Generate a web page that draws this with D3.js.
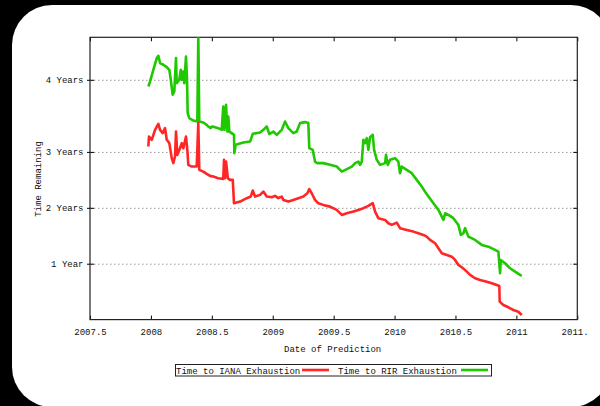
<!DOCTYPE html>
<html>
<head>
<meta charset="utf-8">
<script src="https://cdn.jsdelivr.net/npm/d3@7"></script>
<style>
  html, body { margin: 0; padding: 0; background: #000; }
  svg { display: block; }
  text { font-family: "Liberation Mono", "DejaVu Sans Mono", monospace; font-size: 9px; fill: #111; }
</style>
</head>
<body>
<div class="container"></div>
<script>
// x ticks (decimal year) and y ticks (years remaining)
var xTicks = [2007.5, 2008, 2008.5, 2009, 2009.5, 2010, 2010.5, 2011, 2011.5];
var yTickValues = [1, 2, 3, 4.29];
var yTickLabels = ['1 Year', '2 Years', '3 Years', '4 Years'];

var seriesNames = ['Time to IANA Exhaustion', 'Time to RIR Exhaustion'];

// Time to IANA Exhaustion (red)
var ianaDate = [2007.979, 2007.984, 2008.007, 2008.034, 2008.061, 2008.075, 2008.097, 2008.116, 2008.130, 2008.151,
    2008.171, 2008.184, 2008.198, 2008.206, 2008.217, 2008.239, 2008.253, 2008.266, 2008.288, 2008.299,
    2008.307, 2008.335, 2008.376, 2008.389, 2008.397, 2008.430, 2008.458, 2008.485, 2008.512, 2008.553,
    2008.594, 2008.600, 2008.608, 2008.617, 2008.631, 2008.649, 2008.672, 2008.682, 2008.732, 2008.787,
    2008.819, 2008.836, 2008.855, 2008.896, 2008.923, 2008.951, 2008.992, 2009.019, 2009.046, 2009.074,
    2009.087, 2009.128, 2009.169, 2009.210, 2009.251, 2009.284, 2009.300, 2009.320, 2009.347, 2009.374,
    2009.415, 2009.470, 2009.525, 2009.567, 2009.608, 2009.662, 2009.703, 2009.744, 2009.785, 2009.821,
    2009.840, 2009.867, 2009.922, 2009.949, 2009.977, 2010.018, 2010.045, 2010.100, 2010.154, 2010.195,
    2010.236, 2010.264, 2010.291, 2010.333, 2010.360, 2010.388, 2010.429, 2010.470, 2010.497, 2010.524,
    2010.552, 2010.593, 2010.620, 2010.661, 2010.702, 2010.757, 2010.798, 2010.839, 2010.860, 2010.863,
    2010.893, 2010.934, 2010.975, 2011.016, 2011.044];
var ianaRemaining = [3.096, 3.275, 3.216, 3.395, 3.502, 3.395, 3.336, 3.425, 3.216, 3.157,
    2.888, 2.799, 2.917, 3.364, 2.947, 3.067, 3.157, 3.067, 3.275, 3.037,
    2.768, 2.738, 2.738, 3.515, 2.679, 2.648, 2.607, 2.571, 2.559, 2.530,
    2.517, 2.858, 2.530, 2.827, 2.530, 2.500, 2.500, 2.082, 2.111, 2.172,
    2.201, 2.308, 2.201, 2.231, 2.290, 2.201, 2.190, 2.213, 2.172, 2.201,
    2.141, 2.111, 2.141, 2.172, 2.201, 2.261, 2.333, 2.261, 2.141, 2.082,
    2.052, 2.021, 1.962, 1.873, 1.903, 1.932, 1.962, 1.993, 2.034, 2.082,
    1.932, 1.814, 1.783, 1.724, 1.694, 1.735, 1.635, 1.604, 1.574, 1.545,
    1.515, 1.484, 1.425, 1.366, 1.277, 1.187, 1.157, 1.126, 1.067, 0.978,
    0.936, 0.858, 0.799, 0.739, 0.709, 0.679, 0.650, 0.620, 0.602, 0.321,
    0.261, 0.220, 0.172, 0.141, 0.082];

// Time to RIR Exhaustion (green)
var rirDate = [2007.979, 2007.993, 2008.020, 2008.048, 2008.061, 2008.075, 2008.102, 2008.130, 2008.151, 2008.163,
    2008.179, 2008.192, 2008.206, 2008.212, 2008.233, 2008.245, 2008.253, 2008.266, 2008.274, 2008.288,
    2008.296, 2008.302, 2008.315, 2008.348, 2008.381, 2008.389, 2008.397, 2008.430, 2008.458, 2008.471,
    2008.491, 2008.499, 2008.526, 2008.553, 2008.581, 2008.594, 2008.603, 2008.617, 2008.627, 2008.635,
    2008.644, 2008.663, 2008.682, 2008.685, 2008.696, 2008.759, 2008.814, 2008.836, 2008.896, 2008.923,
    2008.951, 2008.972, 2009.005, 2009.033, 2009.074, 2009.101, 2009.128, 2009.169, 2009.197, 2009.224,
    2009.265, 2009.292, 2009.300, 2009.328, 2009.347, 2009.366, 2009.415, 2009.470, 2009.525, 2009.567,
    2009.608, 2009.649, 2009.676, 2009.703, 2009.717, 2009.731, 2009.744, 2009.758, 2009.772, 2009.785,
    2009.799, 2009.821, 2009.832, 2009.854, 2009.881, 2009.922, 2009.930, 2009.944, 2009.963, 2010.004,
    2010.031, 2010.045, 2010.059, 2010.100, 2010.141, 2010.182, 2010.223, 2010.250, 2010.278, 2010.319,
    2010.360, 2010.401, 2010.415, 2010.442, 2010.483, 2010.524, 2010.544, 2010.565, 2010.579, 2010.606,
    2010.661, 2010.716, 2010.770, 2010.825, 2010.852, 2010.866, 2010.872, 2010.907, 2010.948, 2010.989,
    2011.030, 2011.044];
var rirRemaining = [4.170, 4.260, 4.469, 4.679, 4.720, 4.589, 4.559, 4.517, 4.469, 4.290,
    4.022, 4.081, 4.679, 4.231, 4.290, 4.469, 4.290, 4.439, 4.231, 4.707,
    4.321, 3.694, 3.604, 3.561, 3.543, 5.10, 3.543, 3.526, 3.484, 3.454,
    3.425, 3.454, 3.443, 3.425, 3.395, 3.812, 3.395, 3.842, 3.364, 3.633,
    3.364, 3.336, 3.305, 2.978, 3.126, 3.167, 3.185, 3.323, 3.346, 3.395,
    3.454, 3.318, 3.364, 3.305, 3.395, 3.543, 3.425, 3.336, 3.364, 3.515,
    3.533, 3.515, 3.067, 3.037, 2.827, 2.799, 2.799, 2.768, 2.738, 2.648,
    2.691, 2.738, 2.799, 2.827, 2.768, 2.827, 3.216, 3.157, 3.246, 3.037,
    3.264, 3.305, 3.037, 2.858, 2.768, 2.799, 2.947, 2.768, 2.858, 2.888,
    2.827, 2.619, 2.738, 2.679, 2.619, 2.500, 2.380, 2.290, 2.201, 2.082,
    1.962, 1.783, 1.903, 1.873, 1.814, 1.694, 1.515, 1.545, 1.635, 1.484,
    1.425, 1.336, 1.305, 1.246, 1.216, 0.829, 1.067, 1.008, 0.919, 0.858,
    0.799, 0.781];

var loadChart = function(){
    const WIDTH = 600;
    const HEIGHT = 406;
    const LEFT = 90, RIGHT = 577.3, TOP = 37.3, BOTTOM = 319.6;
    const RED = '#ff2626';
    const GREEN = '#1fc800';

    var xScale = d3.scaleLinear().domain([2007.5, 2011.5]).range([LEFT, RIGHT]);
    var yScale = d3.scaleLinear().domain([0, 5.05]).range([BOTTOM, TOP]);

    var svg = d3.select('.container').append('svg')
        .attr('width', WIDTH)
        .attr('height', HEIGHT);

    svg.append('rect')
        .attr('width', WIDTH).attr('height', HEIGHT)
        .attr('fill', '#000');

    svg.append('rect')
        .attr('x', 12).attr('y', 5)
        .attr('width', 599).attr('height', 402)
        .attr('rx', 40).attr('ry', 40)
        .attr('fill', '#fff');

    // the original canvas cuts off the last tick label
    svg.append('clipPath').attr('id', 'label-clip')
        .append('rect')
        .attr('x', 0).attr('y', 0)
        .attr('width', 588.5).attr('height', HEIGHT);

    // dotted horizontal grid
    svg.append('g')
        .attr('transform', 'translate(' + LEFT + ',0)')
        .call(d3.axisLeft(yScale).tickValues(yTickValues).tickSizeInner(-(RIGHT - LEFT)).tickSizeOuter(0).tickFormat(''))
        .call(function(g){ g.select('.domain').remove(); })
        .selectAll('line')
        .attr('stroke', '#999')
        .attr('stroke-dasharray', '1.5,2.5');

    // bottom axis with labels
    svg.append('g')
        .attr('clip-path', 'url(#label-clip)')
        .append('g')
        .attr('transform', 'translate(0,' + BOTTOM + ')')
        .call(d3.axisBottom(xScale).tickValues(xTicks).tickSizeInner(-4).tickSizeOuter(0)
            .tickPadding(9).tickFormat(d3.format('')))
        .call(function(g){
            g.select('.domain').remove();
            g.selectAll('text').attr('font-family', null).attr('font-size', null).attr('fill', '#111');
            g.selectAll('line').attr('stroke', '#000');
        });

    // top axis (ticks only)
    svg.append('g')
        .attr('transform', 'translate(0,' + TOP + ')')
        .call(d3.axisTop(xScale).tickValues(xTicks).tickSizeInner(-4).tickSizeOuter(0).tickFormat(''))
        .call(function(g){ g.select('.domain').remove(); g.selectAll('line').attr('stroke', '#000'); });

    // left axis with labels
    svg.append('g')
        .attr('transform', 'translate(' + LEFT + ',0)')
        .call(d3.axisLeft(yScale).tickValues(yTickValues).tickSizeInner(3).tickSizeOuter(0)
            .tickPadding(3.5).tickFormat(function(d, i){ return yTickLabels[i]; }))
        .call(function(g){
            g.select('.domain').remove();
            g.selectAll('text').attr('font-family', null).attr('font-size', null).attr('fill', '#111');
            g.selectAll('line').attr('stroke', '#000');
        });

    svg.append('g')
        .attr('transform', 'translate(' + LEFT + ',0)')
        .call(d3.axisLeft(yScale).tickValues(yTickValues).tickSizeInner(-4).tickSizeOuter(0).tickFormat(''))
        .call(function(g){ g.select('.domain').remove(); g.selectAll('line').attr('stroke', '#000'); });

    // right axis (ticks only)
    svg.append('g')
        .attr('transform', 'translate(' + RIGHT + ',0)')
        .call(d3.axisRight(yScale).tickValues(yTickValues).tickSizeInner(-4).tickSizeOuter(0).tickFormat(''))
        .call(function(g){ g.select('.domain').remove(); g.selectAll('line').attr('stroke', '#000'); });

    // border
    svg.append('rect')
        .attr('x', LEFT).attr('y', TOP)
        .attr('width', RIGHT - LEFT).attr('height', BOTTOM - TOP)
        .attr('fill', 'none')
        .attr('stroke', '#222')
        .attr('stroke-width', 1.2);

    svg.append('clipPath').attr('id', 'plot-clip')
        .append('rect')
        .attr('x', LEFT).attr('y', TOP)
        .attr('width', RIGHT - LEFT).attr('height', BOTTOM - TOP);

    var line = d3.line()
        .x(function(d){ return xScale(d[0]); })
        .y(function(d){ return yScale(d[1]); });

    var chart = svg.append('g').attr('clip-path', 'url(#plot-clip)');

    chart.append('path')
        .attr('d', line(d3.zip(rirDate, rirRemaining)))
        .attr('fill', 'none')
        .attr('stroke', GREEN)
        .attr('stroke-width', 2.6)
        .attr('stroke-linejoin', 'round');

    chart.append('path')
        .attr('d', line(d3.zip(ianaDate, ianaRemaining)))
        .attr('fill', 'none')
        .attr('stroke', RED)
        .attr('stroke-width', 2.6)
        .attr('stroke-linejoin', 'round');

    // axis titles
    svg.append('text')
        .attr('x', (LEFT + RIGHT) / 2 - 1)
        .attr('y', 352)
        .attr('text-anchor', 'middle')
        .text('Date of Prediction');

    svg.append('text')
        .attr('transform', 'translate(41,179) rotate(-90)')
        .attr('text-anchor', 'middle')
        .text('Time Remaining');

    // legend
    var legend = svg.append('g');
    legend.append('rect')
        .attr('x', 175.5).attr('y', 364.5)
        .attr('width', 316).attr('height', 11.5)
        .attr('fill', 'none')
        .attr('stroke', '#222');

    var items = [
        {name: seriesNames[0], color: RED, tx: 176, x1: 302, x2: 329},
        {name: seriesNames[1], color: GREEN, tx: 338, x1: 461, x2: 488}
    ];
    items.forEach(function(it){
        legend.append('text')
            .attr('x', it.tx).attr('y', 373.5)
            .text(it.name);
        legend.append('line')
            .attr('x1', it.x1).attr('x2', it.x2)
            .attr('y1', 370).attr('y2', 370)
            .attr('stroke', it.color)
            .attr('stroke-width', 2.6);
    });
};

window.onload = loadChart();
</script>
</body>
</html>
